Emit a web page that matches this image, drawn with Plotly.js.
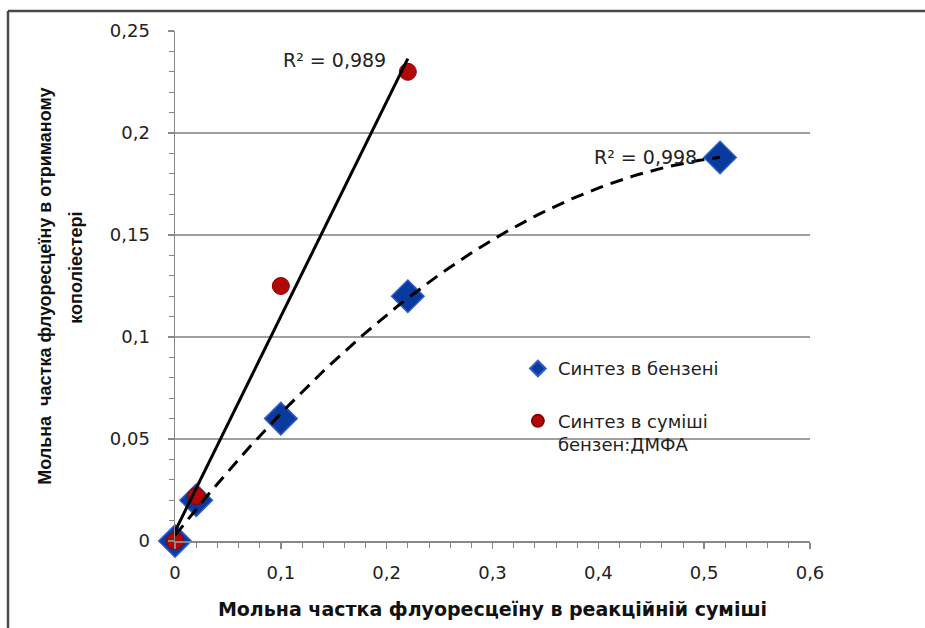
<!DOCTYPE html>
<html>
<head>
<meta charset="utf-8">
<script src="https://cdn.plot.ly/plotly-3.0.1.min.js"></script>
<style>html,body{margin:0;padding:0;background:#fff;}#chart{width:925px;height:628px;}</style>
</head>
<body>
<div id="chart"></div>
<script>
// Data
const benzX = [0, 0.02, 0.1, 0.22, 0.515];
const benzY = [0, 0.02, 0.06, 0.12, 0.188];
const dmfaX = [0, 0.02, 0.1, 0.22];
const dmfaY = [0, 0.022, 0.125, 0.23];
const benzName = 'Синтез в бензені';
const dmfaName = 'Синтез в суміші<br>бензен:ДМФА';
const r2Benz = 'R² = 0,998';
const r2Dmfa = 'R² = 0,989';
const xTitle = 'Мольна частка флуоресцеїну в реакційній суміші';
const yTitleLine1 = 'Мольна  частка флуоресцеїну в отриманому';
const yTitleLine2 = 'кополіестері';

// Least-squares trendlines (as in the spreadsheet): linear for DMFA, 2nd order polynomial for benzene
function linFit(x, y) {
  const n = x.length;
  const mx = x.reduce((a, b) => a + b, 0) / n;
  const my = y.reduce((a, b) => a + b, 0) / n;
  let sxx = 0, sxy = 0;
  for (let i = 0; i < n; i++) { sxx += (x[i] - mx) ** 2; sxy += (x[i] - mx) * (y[i] - my); }
  const b = sxy / sxx;
  return [my - b * mx, b];
}
function polyFit2(x, y) {
  const S = [0, 0, 0, 0, 0], T = [0, 0, 0];
  for (let i = 0; i < x.length; i++) {
    for (let k = 0; k < 5; k++) S[k] += x[i] ** k;
    for (let k = 0; k < 3; k++) T[k] += y[i] * x[i] ** k;
  }
  const M = [[S[0], S[1], S[2], T[0]], [S[1], S[2], S[3], T[1]], [S[2], S[3], S[4], T[2]]];
  for (let c = 0; c < 3; c++) {
    for (let r = c + 1; r < 3; r++) {
      const f = M[r][c] / M[c][c];
      for (let k = c; k < 4; k++) M[r][k] -= f * M[c][k];
    }
  }
  const s = [0, 0, 0];
  for (let r = 2; r >= 0; r--) {
    let v = M[r][3];
    for (let k = r + 1; k < 3; k++) v -= M[r][k] * s[k];
    s[r] = v / M[r][r];
  }
  return s;
}
const lin = linFit(dmfaX, dmfaY);
const linX = [Math.min(...dmfaX), Math.max(...dmfaX)];
const linY = linX.map(v => lin[0] + lin[1] * v);
const quad = polyFit2(benzX, benzY);
const qx = [], qy = [];
const xmin = Math.min(...benzX), xmax = Math.max(...benzX);
for (let i = 0; i <= 100; i++) { const v = xmin + (xmax - xmin) * i / 100; qx.push(v); qy.push(quad[0] + quad[1] * v + quad[2] * v * v); }

const font = 'DejaVu Sans, Verdana, sans-serif';
const yTitleFont = { family: 'Liberation Sans, Arial, sans-serif', size: 18, color: '#111', weight: 'bold' };

const traces = [
  { x: benzX, y: benzY, type: 'scatter', mode: 'markers', name: benzName, legendgroup: 'a', cliponaxis: false,
    marker: { symbol: 'diamond', size: 25, color: '#0b3a9e', line: { color: '#2d5cc8', width: 1.5 } } },
  { x: dmfaX, y: dmfaY, type: 'scatter', mode: 'markers', name: dmfaName, legendgroup: 'b', cliponaxis: false,
    marker: { symbol: 'circle', size: 17, color: '#b10808', line: { color: '#8a0000', width: 1 } } },
  { x: qx, y: qy, type: 'scatter', mode: 'lines', showlegend: false, hoverinfo: 'skip', cliponaxis: false,
    line: { color: '#000', width: 3, dash: '13px,8px' } },
  { x: linX, y: linY, type: 'scatter', mode: 'lines', showlegend: false, hoverinfo: 'skip', cliponaxis: false,
    line: { color: '#000', width: 3 } }
];

const layout = {
  width: 925, height: 628,
  paper_bgcolor: '#fff', plot_bgcolor: '#fff',
  separators: ', ',
  margin: { l: 175, r: 115, t: 31, b: 86.5, pad: 0 },
  showlegend: true,
  legend: { x: 0.54, y: 0.374, xanchor: 'left', yanchor: 'top', traceorder: 'grouped', tracegroupgap: 26,
    itemsizing: 'constant', valign: 'top',
    font: { family: font, size: 18, color: '#222' }, bgcolor: 'rgba(0,0,0,0)', itemwidth: 30 },
  xaxis: {
    range: [0, 0.6], dtick: 0.1, tick0: 0, showgrid: false, zeroline: false,
    showline: true, linecolor: '#888', linewidth: 1.5,
    ticks: 'outside', ticklen: 6, tickcolor: '#888', tickwidth: 1.5,
    minor: { dtick: 0.02, ticks: 'outside', ticklen: 5, tickcolor: '#888', tickwidth: 1 },
    tickfont: { family: font, size: 18, color: '#222' }, ticklabelstandoff: 9,
    title: { text: xTitle, font: { family: font, size: 19, color: '#111', weight: 'bold' }, standoff: 20 }
  },
  yaxis: {
    range: [0, 0.25], dtick: 0.05, tick0: 0, showgrid: true, gridcolor: '#a0a0a0', gridwidth: 1.5, zeroline: false,
    showline: true, linecolor: '#888', linewidth: 1.5,
    ticks: 'outside', ticklen: 6, tickcolor: '#888', tickwidth: 1.5,
    minor: { dtick: 0.01, ticks: 'outside', ticklen: 5, tickcolor: '#888', tickwidth: 1 },
    tickfont: { family: font, size: 18, color: '#222' }, ticklabelstandoff: 14
  },
  annotations: [
    { x: 0.151, y: 0.236, xref: 'x', yref: 'y', text: r2Dmfa, showarrow: false,
      font: { family: font, size: 19, color: '#222' } },
    { x: 0.445, y: 0.188, xref: 'x', yref: 'y', text: r2Benz, showarrow: false,
      font: { family: font, size: 19, color: '#222' } },
    { xref: 'paper', yref: 'paper', x: -0.205, y: 0.50, xanchor: 'center', yanchor: 'middle',
      text: yTitleLine1, textangle: -90, showarrow: false, font: yTitleFont },
    { xref: 'paper', yref: 'paper', x: -0.155, y: 0.535, xanchor: 'center', yanchor: 'middle',
      text: yTitleLine2, textangle: -90, showarrow: false, font: yTitleFont }
  ],
  shapes: [
    { type: 'line', xref: 'paper', yref: 'paper', x0: -0.263, x1: -0.263, y0: 1.039, y1: -0.3,
      line: { color: '#4a4a4a', width: 2.5 } },
    { type: 'line', xref: 'paper', yref: 'paper', x0: -0.263, x1: 1.3, y0: 1.039, y1: 1.039,
      line: { color: '#4a4a4a', width: 2.5 } }
  ]
};

Plotly.newPlot('chart', traces, layout, { displayModeBar: false, staticPlot: true });
</script>
</body>
</html>
